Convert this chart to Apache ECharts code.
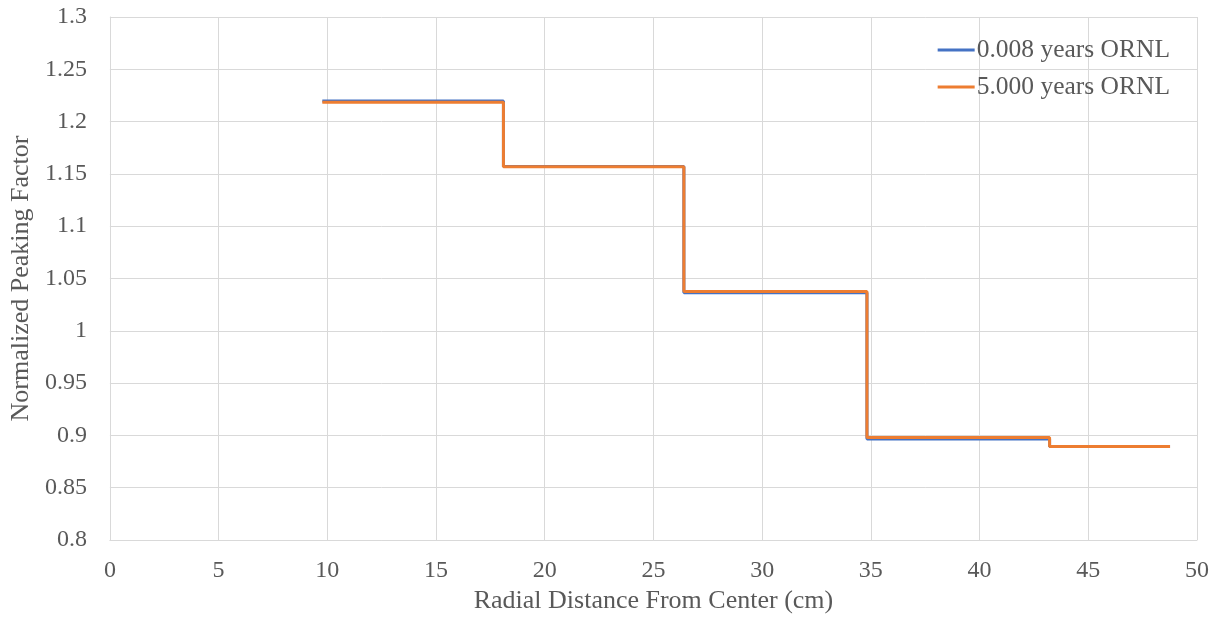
<!DOCTYPE html>
<html>
<head>
<meta charset="utf-8">
<script src="https://cdn.jsdelivr.net/npm/echarts@6/dist/echarts.min.js"></script>
<style>
  html, body { margin: 0; padding: 0; background: #fff; }
  #chart { width: 1222px; height: 621px; }
</style>
</head>
<body>
<div id="chart"></div>
<script>
// Ring boundaries (cm) and the normalized peaking factor in each ring
const ringEdges = [9.77, 18.1, 26.4, 34.82, 43.22, 48.76];
const pf0008 = [1.2196, 1.1571, 1.0363, 0.8965, 0.8895];
const pf5000 = [1.2185, 1.1568, 1.0376, 0.8980, 0.8895];
const seriesNames = ['0.008 years ORNL', '5.000 years ORNL'];
const xTicks = { min: 0, max: 50, interval: 5 };
const yTicks = { min: 0.8, max: 1.3, interval: 0.05 };

// Each ring becomes a flat segment; step:'end' joins them with vertical risers
function stepPoints(values) {
  const pts = values.map((v, i) => [ringEdges[i], v]);
  pts.push([ringEdges[ringEdges.length - 1], values[values.length - 1]]);
  return pts;
}

const font = '"Liberation Serif", "Times New Roman", serif';
const textColor = '#595959';
const gridColor = '#d9d9d9';

const chart = echarts.init(document.getElementById('chart'));
chart.setOption({
  animation: false,
  backgroundColor: '#fff',
  grid: { left: 106, right: 25, top: 17, bottom: 81, containLabel: false },
  legend: {
    right: 47,
    top: 32,
    orient: 'vertical',
    itemWidth: 37,
    itemHeight: 3,
    itemGap: 11,
    icon: 'rect',
    textStyle: { fontFamily: font, fontSize: 25.5, lineHeight: 26, color: textColor, padding: [0, 0, 0, -3] },
    data: seriesNames
  },
  xAxis: {
    type: 'value',
    min: xTicks.min, max: xTicks.max, interval: xTicks.interval,
    name: 'Radial Distance From Center (cm)',
    nameLocation: 'middle',
    nameGap: 48,
    nameTextStyle: { fontFamily: font, fontSize: 26, color: textColor },
    axisLine: { show: true, lineStyle: { color: gridColor, width: 1 } },
    axisTick: { show: false },
    axisLabel: { fontFamily: font, fontSize: 24, color: textColor, margin: 19 },
    splitLine: { show: true, lineStyle: { color: gridColor, width: 1 } }
  },
  yAxis: {
    type: 'value',
    min: yTicks.min, max: yTicks.max, interval: yTicks.interval,
    name: 'Normalized Peaking Factor',
    nameLocation: 'middle',
    nameGap: 71,
    nameTextStyle: { fontFamily: font, fontSize: 26, color: textColor },
    axisLine: { show: true, lineStyle: { color: gridColor, width: 1 } },
    axisTick: { show: false },
    axisLabel: {
      fontFamily: font, fontSize: 24, color: textColor, margin: 23,
      formatter: v => String(parseFloat(v.toFixed(2)))
    },
    splitLine: { show: true, lineStyle: { color: gridColor, width: 1 } }
  },
  series: [
    {
      name: seriesNames[0],
      type: 'line',
      step: 'end',
      showSymbol: false,
      data: stepPoints(pf0008),
      lineStyle: { color: '#4472C4', width: 3 },
      itemStyle: { color: '#4472C4' },
      z: 2
    },
    {
      name: seriesNames[1],
      type: 'line',
      step: 'end',
      showSymbol: false,
      data: stepPoints(pf5000),
      lineStyle: { color: '#ED7D31', width: 3 },
      itemStyle: { color: '#ED7D31' },
      z: 3
    }
  ]
});
</script>
</body>
</html>
